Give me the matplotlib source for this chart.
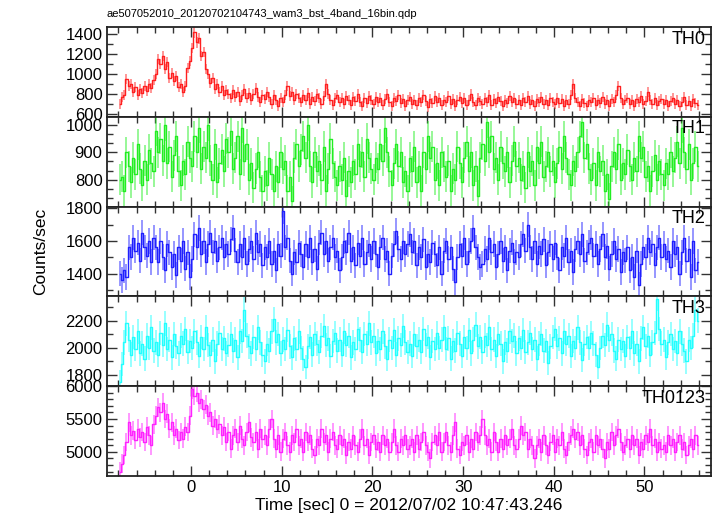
import numpy as np
import matplotlib
matplotlib.use("Agg")
import matplotlib.pyplot as plt
from matplotlib.ticker import MultipleLocator

plt.rcParams['font.family'] = ['Liberation Sans', 'DejaVu Sans']

# time bins (0.25 s, centres) and count rates
t0 = -7.875
binw = 0.25

th0 = [700, 770, 790, 950, 880, 900, 820, 870, 790, 850, 810, 880, 830, 900, 860, 940,
       1000, 1150, 1100, 1180, 1050, 1120, 960, 1010, 930, 980, 870, 900, 820, 880, 1060, 1130,
       1260, 1420, 1320, 1360, 1180, 1220, 1050, 1000, 910, 960, 850, 900, 820, 880, 790, 840,
       800, 760, 840, 770, 820, 730, 790, 850, 760, 810, 740, 800, 860, 770, 720, 790,
       750, 820, 770, 700, 790, 740, 680, 760, 720, 790, 880, 780, 820, 740, 800, 760,
       720, 790, 740, 810, 700, 770, 730, 800, 760, 700, 780, 900, 800, 740, 690, 760,
       790, 720, 760, 700, 780, 740, 690, 770, 730, 800, 720, 680, 760, 710, 780, 740,
       700, 770, 720, 760, 690, 750, 800, 720, 680, 760, 730, 790, 710, 750, 680, 740,
       770, 700, 740, 690, 760, 720, 790, 730, 670, 750, 710, 780, 720, 760, 690, 740,
       720, 780, 700, 750, 680, 740, 770, 710, 760, 690, 740, 800, 720, 690, 760, 730,
       700, 760, 720, 790, 690, 750, 710, 770, 730, 680, 740, 710, 780, 720, 760, 700,
       740, 690, 760, 720, 780, 700, 740, 680, 750, 720, 770, 700, 740, 690, 760, 720,
       700, 760, 710, 750, 680, 740, 700, 790, 900, 760, 720, 680, 750, 710, 680, 740,
       720, 760, 690, 740, 710, 770, 700, 740, 680, 750, 720, 790, 880, 760, 700, 740,
       760, 700, 740, 680, 750, 720, 780, 700, 730, 820, 740, 700, 760, 690, 730, 750,
       700, 740, 680, 730, 760, 700, 740, 680, 720, 770, 690, 730, 680, 750, 710, 690]

th1 = [800, 810, 760, 900, 850, 790, 880, 820, 930, 840, 780, 870, 800, 910, 860, 830,
       980, 900, 950, 870, 1000, 860, 920, 810, 890, 960, 830, 780, 870, 820, 940, 880,
       850, 960, 900, 990, 840, 920, 880, 1000, 870, 800, 930, 790, 860, 910, 830, 950,
       900, 980, 840, 880, 960, 820, 990, 870, 930, 800, 860, 770, 840, 900, 810, 760,
       830, 780, 880, 820, 760, 850, 790, 900, 840, 870, 760, 810, 720, 880, 930, 850,
       910, 960, 880, 1000, 850, 790, 900, 830, 870, 800, 920, 760, 840, 950, 860, 810,
       780, 850, 800, 880, 740, 830, 790, 870, 820, 930, 850, 900, 810, 950, 880, 840,
       800, 880, 840, 930, 870, 990, 900, 830, 780, 860, 930, 850, 900, 790, 830, 760,
       880, 830, 920, 790, 850, 760, 900, 840, 960, 880, 920, 800, 860, 780, 900, 850,
       810, 870, 760, 840, 800, 920, 860, 790, 880, 940, 830, 900, 780, 850, 740, 880,
       930, 870, 1010, 900, 960, 840, 880, 800, 920, 860, 830, 900, 790, 870, 940, 850,
       880, 800, 850, 770, 900, 830, 870, 780, 920, 860, 940, 810, 850, 900, 830, 870,
       790, 860, 920, 840, 960, 880, 820, 780, 870, 830, 900, 960, 1010, 880, 930, 840,
       800, 860, 780, 900, 830, 870, 760, 820, 730, 850, 900, 840, 930, 800, 860, 820,
       910, 850, 800, 880, 830, 960, 880, 920, 810, 850, 760, 830, 890, 800, 870, 820,
       780, 860, 820, 900, 830, 880, 940, 860, 990, 900, 840, 930, 800, 860, 920, 850]

th2 = [1400, 1360, 1420, 1380, 1560, 1500, 1620, 1540, 1590, 1480, 1650, 1560, 1510, 1600, 1470, 1620,
       1560, 1470, 1600, 1500, 1420, 1580, 1530, 1440, 1520, 1390, 1560, 1480, 1600, 1430, 1530, 1380,
       1490, 1640, 1560, 1680, 1520, 1600, 1470, 1580, 1650, 1530, 1600, 1480, 1560, 1620, 1500, 1580,
       1520, 1610, 1680, 1540, 1470, 1580, 1500, 1620, 1460, 1550, 1600, 1490, 1650, 1530, 1580, 1450,
       1560, 1500, 1600, 1460, 1540, 1420, 1580, 1510, 1780, 1560, 1620, 1480, 1400, 1530, 1470, 1590,
       1520, 1440, 1580, 1500, 1620, 1470, 1550, 1430, 1590, 1650, 1520, 1600, 1480, 1560, 1620, 1500,
       1540, 1420, 1500, 1600, 1530, 1650, 1480, 1560, 1450, 1590, 1510, 1620, 1460, 1530, 1580, 1490,
       1600, 1520, 1440, 1560, 1620, 1490, 1540, 1400, 1510, 1580, 1660, 1550, 1490, 1600, 1520, 1580,
       1640, 1530, 1600, 1450, 1560, 1500, 1610, 1440, 1520, 1470, 1590, 1520, 1450, 1560, 1400, 1540,
       1600, 1490, 1560, 1430, 1350, 1500, 1580, 1510, 1620, 1460, 1540, 1600, 1680, 1560, 1500, 1440,
       1460, 1550, 1490, 1620, 1530, 1580, 1440, 1520, 1600, 1480, 1560, 1420, 1540, 1590, 1470, 1530,
       1500, 1580, 1640, 1540, 1700, 1560, 1490, 1600, 1460, 1570, 1520, 1610, 1450, 1530, 1580, 1490,
       1590, 1500, 1420, 1560, 1510, 1620, 1470, 1540, 1410, 1550, 1600, 1520, 1640, 1480, 1530, 1590,
       1620, 1510, 1580, 1460, 1550, 1640, 1500, 1570, 1430, 1520, 1600, 1490, 1550, 1410, 1530, 1480,
       1560, 1420, 1500, 1380, 1540, 1330, 1460, 1560, 1500, 1620, 1530, 1580, 1450, 1560, 1620, 1500,
       1580, 1490, 1540, 1440, 1600, 1520, 1560, 1400, 1530, 1620, 1480, 1550, 1380, 1600, 1420, 1470]

th3 = [1750, 1880, 2040, 2180, 2060, 1950, 2080, 1990, 2120, 1960, 2030, 1920, 2090, 2000, 2150, 1980,
       2040, 1950, 2110, 2020, 2180, 1990, 2060, 1930, 2100, 2010, 1960, 2090, 2030, 2140, 1970, 2050,
       2000, 2120, 2040, 1940, 2080, 1990, 2150, 2020, 1950, 2060, 1900, 2030, 2110, 1990, 2070, 1960,
       2020, 2100, 1980, 2060, 1930, 2120, 2050, 2280, 2090, 2010, 1960, 2080, 1990, 2150, 2040, 1950,
       1900, 2030, 1980, 2120, 2210, 2040, 2100, 1960, 2060, 1990, 2130, 2010, 1930, 2070, 1990, 2120,
       2000, 1920, 1860, 2010, 2080, 1950, 2100, 2030, 1970, 2090, 2160, 2020, 2070, 1940, 2050, 2110,
       1980, 2060, 1950, 2120, 2020, 2090, 1930, 2040, 1990, 2140, 2060, 1970, 2100, 2030, 2180, 2040,
       2090, 1960, 2050, 1990, 2120, 2010, 1920, 2060, 2000, 2130, 1950, 2070, 2020, 2160, 2040, 1970,
       2030, 1940, 2100, 2010, 2060, 1970, 2140, 2020, 2080, 1930, 2050, 1990, 2110, 2000, 2060, 2150,
       1990, 2070, 1920, 2050, 1980, 2110, 2030, 1940, 2080, 2000, 2130, 1960, 2060, 2170, 2010, 2080,
       1970, 2090, 2020, 2150, 1990, 2060, 1940, 2100, 2030, 1900, 2040, 1980, 2120, 2050, 2090, 1960,
       2070, 2000, 2130, 1970, 2040, 2110, 1990, 2060, 1920, 2030, 2100, 1980, 2050, 1890, 2010, 2080,
       2140, 2010, 2070, 1960, 2120, 2030, 2090, 1940, 2050, 2000, 2150, 2040, 1910, 2030, 2080, 2000,
       2110, 2030, 1950, 1860, 2000, 2090, 2020, 2170, 2060, 2100, 1980, 1920, 2060, 1990, 2050, 1940,
       2080, 2000, 2120, 1960, 2030, 1900, 2070, 2150, 2010, 2090, 1950, 2040, 2110, 2360, 2140, 2030,
       2060, 1930, 2040, 2100, 1990, 2050, 1960, 2120, 2030, 1980, 1900, 2060, 2000, 2090, 2280, 2200]

th0123 = [4700, 4820, 4950, 5150, 5450, 5250, 5320, 5180, 5350, 5220, 5300, 5150, 5380, 5250, 5100, 5420,
          5550, 5680, 5600, 5750, 5500, 5580, 5350, 5450, 5250, 5350, 5180, 5300, 5200, 5380, 5300, 5550,
          5950, 5850, 5900, 5750, 5800, 5650, 5720, 5550, 5600, 5400, 5500, 5350, 5420, 5250, 5380, 5150,
          5300, 5050, 5250, 5350, 5150, 5400, 5200, 5100, 5300, 5450, 5220, 5150, 5300, 5050, 5350, 5200,
          5250, 5100, 5350, 5500, 5200, 5050, 5250, 5000, 5200, 5300, 5100, 5000, 5250, 5150, 5350, 5100,
          5200, 5000, 5300, 5150, 5250, 5050, 4950, 5200, 5100, 5350, 5150, 5250, 5000, 5200, 5300, 5100,
          5050, 5250, 5100, 5200, 4950, 5150, 5050, 5250, 5100, 5000, 5200, 5350, 5100, 5200, 4950, 5150,
          5250, 5050, 5150, 5000, 5250, 5100, 5200, 5000, 5150, 5350, 5100, 5000, 5200, 5100, 5250, 5050,
          5100, 5200, 5000, 5250, 5050, 5150, 5300, 5100, 5000, 4900, 5150, 5250, 5100, 5300, 5000, 5150,
          5300, 5100, 5000, 5250, 5450, 5050, 4950, 5150, 5100, 5250, 5000, 5200, 5050, 5300, 5150, 5250,
          5500, 5250, 5100, 5200, 5000, 5300, 5150, 5000, 5200, 5050, 5250, 5100, 5200, 5350, 5100, 5050,
          5200, 5400, 5250, 5300, 5050, 5200, 5100, 4900, 5100, 5200, 5000, 5250, 5100, 4950, 5150, 5250,
          5000, 5200, 5100, 5300, 5050, 4950, 5150, 5250, 5350, 5200, 5300, 5100, 5250, 5050, 4950, 5150,
          5200, 5000, 5250, 5100, 5200, 5050, 4900, 5150, 5050, 5300, 5100, 5250, 5350, 5150, 5000, 5100,
          5200, 5050, 5250, 5100, 5200, 4950, 5150, 5050, 5250, 5150, 5350, 5100, 5200, 5000, 5150, 5050,
          5100, 5000, 5250, 5100, 5200, 5000, 5150, 5250, 5050, 5150, 4950, 5100, 5200, 5050, 5250, 5100]

series = [th0, th1, th2, th3, th0123]
names = ['TH0', 'TH1', 'TH2', 'TH3', 'TH0123']
errs = [53, 57, 78, 90, 143]          # typical 1-sigma error per band
colors = ['#ff2020', '#22ee22', '#2020ff', '#22ffff', '#ff22ff']
ylims = [(572, 1473), (701, 1031), (1261, 1810), (1719, 2378), (4633, 6000)]
majors = [200, 100, 200, 200, 500]
minors = [100, 100 / 3, 100, 100, 100]

fig = plt.figure(figsize=(7.17, 5.16), dpi=100)
left, width = 0.1488, 0.8424
top, ph = 0.9477, 0.1740

time = t0 + binw * np.arange(len(th0))

axes = []
for k in range(5):
    ax = fig.add_axes([left, top - ph * (k + 1), width, ph],
                      sharex=axes[0] if axes else None)
    axes.append(ax)
    y = np.array(series[k])
    c = colors[k]
    ax.errorbar(time, y, yerr=errs[k], fmt='none', ecolor=c, elinewidth=1.2, alpha=0.55)
    ax.plot(time, y, drawstyle='steps-mid', color=c, lw=1.0)
    ax.set_ylim(*ylims[k])
    ax.yaxis.set_major_locator(MultipleLocator(majors[k]))
    ax.yaxis.set_minor_locator(MultipleLocator(minors[k]))
    ax.xaxis.set_major_locator(MultipleLocator(10))
    ax.xaxis.set_minor_locator(MultipleLocator(2))
    ax.tick_params(which='both', direction='in', top=True, right=True, labelsize=12,
                   width=1.0, colors='#333333', labelcolor='black')
    ax.tick_params(which='major', length=7, pad=3)
    ax.tick_params(which='minor', length=4)
    for s in ax.spines.values():
        s.set_linewidth(1.3)
        s.set_color('#222222')
    ax.text(0.992, 0.96, names[k], transform=ax.transAxes, ha='right', va='top', fontsize=13)
    if k < 4:
        ax.tick_params(labelbottom=False)

axes[0].set_xlim(-9.3, 57.3)
axes[-1].set_xlabel('Time [sec] 0 = 2012/07/02 10:47:43.246', fontsize=12.5, labelpad=2)
fig.text(0.056, 0.513, 'Counts/sec', rotation=90, ha='center', va='center', fontsize=12.5)
fig.text(left, 0.963, 'ae507052010_20120702104743_wam3_bst_4band_16bin.qdp',
         ha='left', va='bottom', fontsize=8)

fig.savefig('out.png', dpi=100)
